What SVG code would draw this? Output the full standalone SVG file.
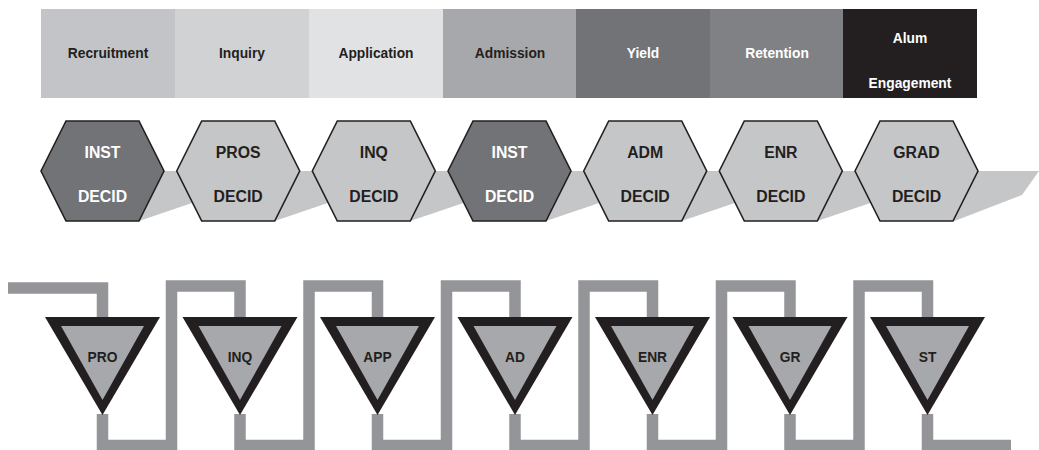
<svg xmlns="http://www.w3.org/2000/svg" width="1039" height="450" viewBox="0 0 1039 450">
<style>
  text { font-family: "Liberation Sans", Arial, sans-serif; font-weight: bold; text-anchor: middle; }
  .st { font-size: 13.8px; }
  .dk { fill: #231f20; }
  .wt { fill: #ffffff; }
  .hx { stroke: #231f20; stroke-width: 1.6; stroke-linejoin: miter; }
  .hl { fill: #c5c6c8; }
  .hd { fill: #727376; }
  .ht { font-size: 15.8px; }
  .band { fill: #c5c6c8; }
  .pipe { fill: none; stroke: #939598; stroke-width: 11.5; stroke-linejoin: miter; stroke-linecap: butt; }
  .tout { fill: #231f20; }
  .tin { fill: #a7a8ab; }
  .tt { font-size: 13.8px; fill: #231f20; }
</style>
<defs>
  <polygon id="hex" points="-61.5,0 -36.5,-50 36.5,-50 61.5,0 36.5,50 -36.5,50"/>
</defs>

<!-- Stage bar -->
<g id="stage-recruitment"><rect x="41" y="9" width="134" height="89" fill="#c3c4c7"/><text class="st dk" x="108" y="58">Recruitment</text></g>
<g id="stage-inquiry"><rect x="175" y="9" width="134" height="89" fill="#d1d2d4"/><text class="st dk" x="242" y="58">Inquiry</text></g>
<g id="stage-application"><rect x="309" y="9" width="134" height="89" fill="#e1e2e4"/><text class="st dk" x="376" y="58">Application</text></g>
<g id="stage-admission"><rect x="443" y="9" width="134" height="89" fill="#a7a8ab"/><text class="st dk" x="510" y="58">Admission</text></g>
<g id="stage-yield"><rect x="576" y="9" width="134" height="89" fill="#727376"/><text class="st wt" x="643" y="58">Yield</text></g>
<g id="stage-retention"><rect x="710" y="9" width="133" height="89" fill="#808184"/><text class="st wt" x="777" y="58">Retention</text></g>
<g id="stage-alum"><rect x="843" y="9" width="134" height="89" fill="#231f20"/><text class="st wt" x="910" y="43">Alum</text><text class="st wt" x="910" y="88">Engagement</text></g>

<!-- Ribbon band behind hexagons -->
<g id="band">
  <polygon class="band" transform="translate(102.5,171)" points="0,0 105,0 105,26.7 36.5,50"/>
  <polygon class="band" transform="translate(238.2,171)" points="0,0 105,0 105,26.7 36.5,50"/>
  <polygon class="band" transform="translate(373.8,171)" points="0,0 105,0 105,26.7 36.5,50"/>
  <polygon class="band" transform="translate(509.5,171)" points="0,0 105,0 105,26.7 36.5,50"/>
  <polygon class="band" transform="translate(645.2,171)" points="0,0 105,0 105,26.7 36.5,50"/>
  <polygon class="band" transform="translate(780.8,171)" points="0,0 105,0 105,26.7 36.5,50"/>
  <polygon class="band" transform="translate(916.5,171)" points="0,0 122.5,0 105.5,24 38,50"/>
</g>

<!-- Hexagons -->
<g id="hex-inst1" transform="translate(102.5,171)"><use href="#hex" class="hx hd"/><text class="ht wt" x="0" y="-13.5">INST</text><text class="ht wt" x="0" y="30.5">DECID</text></g>
<g id="hex-pros" transform="translate(238.2,171)"><use href="#hex" class="hx hl"/><text class="ht dk" x="0" y="-13.5">PROS</text><text class="ht dk" x="0" y="30.5">DECID</text></g>
<g id="hex-inq" transform="translate(373.8,171)"><use href="#hex" class="hx hl"/><text class="ht dk" x="0" y="-13.5">INQ</text><text class="ht dk" x="0" y="30.5">DECID</text></g>
<g id="hex-inst2" transform="translate(509.5,171)"><use href="#hex" class="hx hd"/><text class="ht wt" x="0" y="-13.5">INST</text><text class="ht wt" x="0" y="30.5">DECID</text></g>
<g id="hex-adm" transform="translate(645.2,171)"><use href="#hex" class="hx hl"/><text class="ht dk" x="0" y="-13.5">ADM</text><text class="ht dk" x="0" y="30.5">DECID</text></g>
<g id="hex-enr" transform="translate(780.8,171)"><use href="#hex" class="hx hl"/><text class="ht dk" x="0" y="-13.5">ENR</text><text class="ht dk" x="0" y="30.5">DECID</text></g>
<g id="hex-grad" transform="translate(916.5,171)"><use href="#hex" class="hx hl"/><text class="ht dk" x="0" y="-13.5">GRAD</text><text class="ht dk" x="0" y="30.5">DECID</text></g>

<!-- Pipe connectors -->
<g id="connectors">
  <polyline class="pipe" points="8,288 102.5,288 102.5,318"/>
  <polyline class="pipe" points="102.5,414 102.5,445.5 171.5,445.5 171.5,286 240,286 240,318"/>
  <polyline class="pipe" points="240,414 240,445.5 309,445.5 309,286 377.5,286 377.5,318"/>
  <polyline class="pipe" points="377.5,414 377.5,445.5 446.5,445.5 446.5,286 515,286 515,318"/>
  <polyline class="pipe" points="515,414 515,445.5 584,445.5 584,286 652.5,286 652.5,318"/>
  <polyline class="pipe" points="652.5,414 652.5,445.5 721.5,445.5 721.5,286 790,286 790,318"/>
  <polyline class="pipe" points="790,414 790,445.5 859,445.5 859,286 927.5,286 927.5,318"/>
  <polyline class="pipe" points="927.5,414 927.5,445.5 1011,445.5"/>
</g>

<!-- Triangles -->
<g id="tri-pro" transform="translate(102.5,0)"><polygon class="tout" points="-57.5,317 57.5,317 0,415"/><polygon class="tin" points="-41.5,326 41.5,326 0,400"/><text class="tt" x="0" y="362">PRO</text></g>
<g id="tri-inq" transform="translate(240,0)"><polygon class="tout" points="-57.5,317 57.5,317 0,415"/><polygon class="tin" points="-41.5,326 41.5,326 0,400"/><text class="tt" x="0" y="362">INQ</text></g>
<g id="tri-app" transform="translate(377.5,0)"><polygon class="tout" points="-57.5,317 57.5,317 0,415"/><polygon class="tin" points="-41.5,326 41.5,326 0,400"/><text class="tt" x="0" y="362">APP</text></g>
<g id="tri-ad" transform="translate(515,0)"><polygon class="tout" points="-57.5,317 57.5,317 0,415"/><polygon class="tin" points="-41.5,326 41.5,326 0,400"/><text class="tt" x="0" y="362">AD</text></g>
<g id="tri-enr" transform="translate(652.5,0)"><polygon class="tout" points="-57.5,317 57.5,317 0,415"/><polygon class="tin" points="-41.5,326 41.5,326 0,400"/><text class="tt" x="0" y="362">ENR</text></g>
<g id="tri-gr" transform="translate(790,0)"><polygon class="tout" points="-57.5,317 57.5,317 0,415"/><polygon class="tin" points="-41.5,326 41.5,326 0,400"/><text class="tt" x="0" y="362">GR</text></g>
<g id="tri-st" transform="translate(927.5,0)"><polygon class="tout" points="-57.5,317 57.5,317 0,415"/><polygon class="tin" points="-41.5,326 41.5,326 0,400"/><text class="tt" x="0" y="362">ST</text></g>
</svg>
